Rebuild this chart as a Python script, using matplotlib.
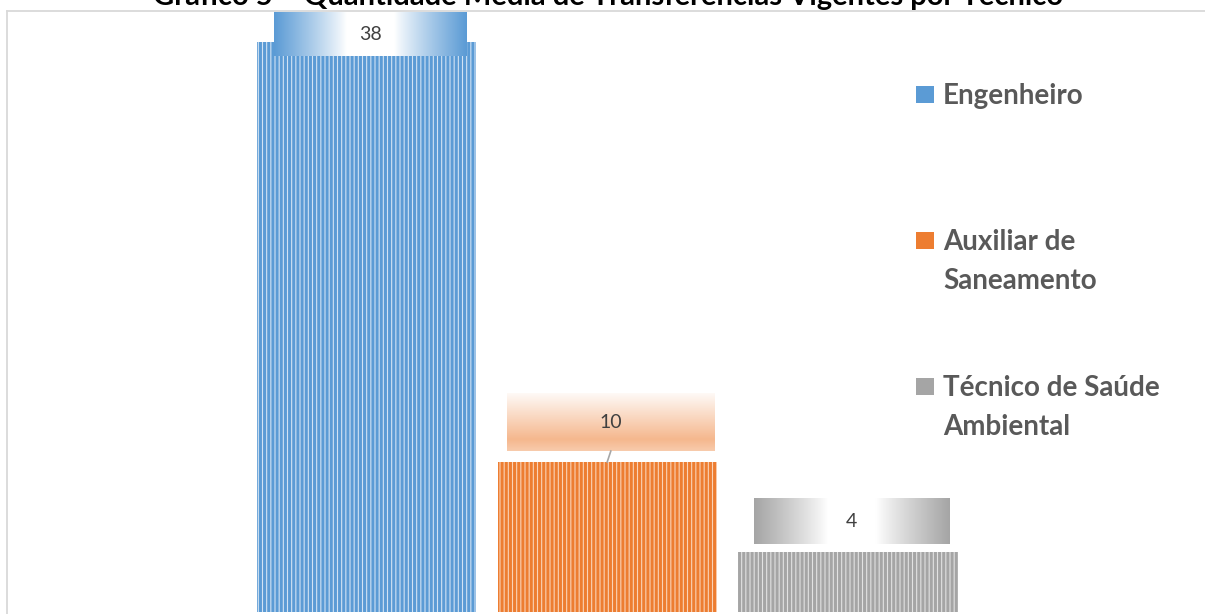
import numpy as np
import matplotlib
matplotlib.use("Agg")
from matplotlib import pyplot as plt
from matplotlib.patches import Rectangle
from matplotlib.lines import Line2D

categories = ["Engenheiro", "Auxiliar de\nSaneamento", "Técnico de Saúde\nAmbiental"]
values = [38, 10, 4]
title = "Gráfico 5 – Quantidade Média de Transferências Vigentes por Técnico"

dark_colors = ["#5B9BD5", "#ED7D31", "#A5A5A5"]
light_colors = ["#D2E3F4", "#FAD3B8", "#E2E2E2"]

# label box placement (relative to bar top, in data units)
label_offsets = [0.53, 2.63, 2.03]
label_heights = [2.93, 3.8, 3.0]
label_widths = [0.80, 0.86, 0.81]
label_shift = 0.015

plt.rcParams["font.family"] = ["Lato", "DejaVu Sans"]
plt.rcParams["hatch.linewidth"] = 2.2

W, H = 1205, 614
fig = plt.figure(figsize=(W / 100, H / 100), dpi=100)
fig.patch.set_facecolor("white")

# chart-area border (only left and top visible in the crop)
fig.add_artist(Line2D([7 / W, 7 / W], [-0.1, 1 - 10.5 / H], transform=fig.transFigure,
                      color="#D9D9D9", lw=1.3))
fig.add_artist(Line2D([7 / W, 1.1], [1 - 10.5 / H, 1 - 10.5 / H], transform=fig.transFigure,
                      color="#D9D9D9", lw=1.3))

ax = fig.add_axes([7 / W, 2 / H, 1 - 7 / W, (612 - 10) / H])
ax.set_xlim(-1.493, 3.483)
ax.set_ylim(0, 40.13)
ax.axis("off")

x = np.arange(len(values))
for i, v in enumerate(values):
    ax.bar(x[i], v, width=0.91, color=light_colors[i], edgecolor=dark_colors[i],
           hatch="||||", linewidth=0, zorder=2)


def gradient_image(color, kind):
    c = np.array(matplotlib.colors.to_rgb(color))
    white = np.ones(3)
    if kind == "h":
        t = np.abs(np.linspace(-1, 1, 300))
        f = np.clip((t - 0.25) / 0.75, 0, 1) ** 0.9
        img = white[None, None, :] * (1 - f[None, :, None]) + c[None, None, :] * f[None, :, None]
        img = np.repeat(img, 20, axis=0)
    else:
        t = np.linspace(0, 1, 200)
        f = np.interp(t, [0, 0.8, 1], [0.04, 0.55, 0.4])
        img = white[None, :] * (1 - f[:, None]) + c[None, :] * f[:, None]
        img = np.repeat(img[:, None, :], 20, axis=1)
    return img


kinds = ["h", "v", "h"]
for i, v in enumerate(values):
    cx = x[i] + label_shift
    cy = min(v + label_offsets[i], 40.13)
    w, h = label_widths[i], label_heights[i]
    ax.imshow(gradient_image(dark_colors[i], kinds[i]), origin="upper", aspect="auto",
              extent=(cx - w / 2, cx + w / 2, cy - h / 2, cy + h / 2), zorder=3,
              interpolation="bilinear")
    ax.text(cx, cy, f"{v}", ha="center", va="center", fontsize=14, color="#404040", zorder=4)
    if cy - h / 2 - v > 0.6:
        ax.plot([x[i], cx], [v, cy - h / 2], color="#A6A6A6", lw=1.2, zorder=3)

# legend
leg_x = 916 / W
leg_y0 = 94
leg_step = 146
for i, label in enumerate(categories):
    yc = 1 - (leg_y0 + i * leg_step) / H
    fig.add_artist(Rectangle((leg_x, yc - 8.5 / H), 18 / W, 17 / H, transform=fig.transFigure,
                             facecolor=light_colors[i], edgecolor=dark_colors[i],
                             hatch="||||||", linewidth=0))
    fig.text(leg_x + 27 / W, yc + 11 / H, label, ha="left", va="top", fontsize=20,
             fontweight="bold", color="#595959", linespacing=1.6)

fig.text(0.505, 1 - 5 / H, title, ha="center", va="baseline", fontsize=21,
         fontweight="bold", color="black")

fig.savefig("out.png", dpi=100)
